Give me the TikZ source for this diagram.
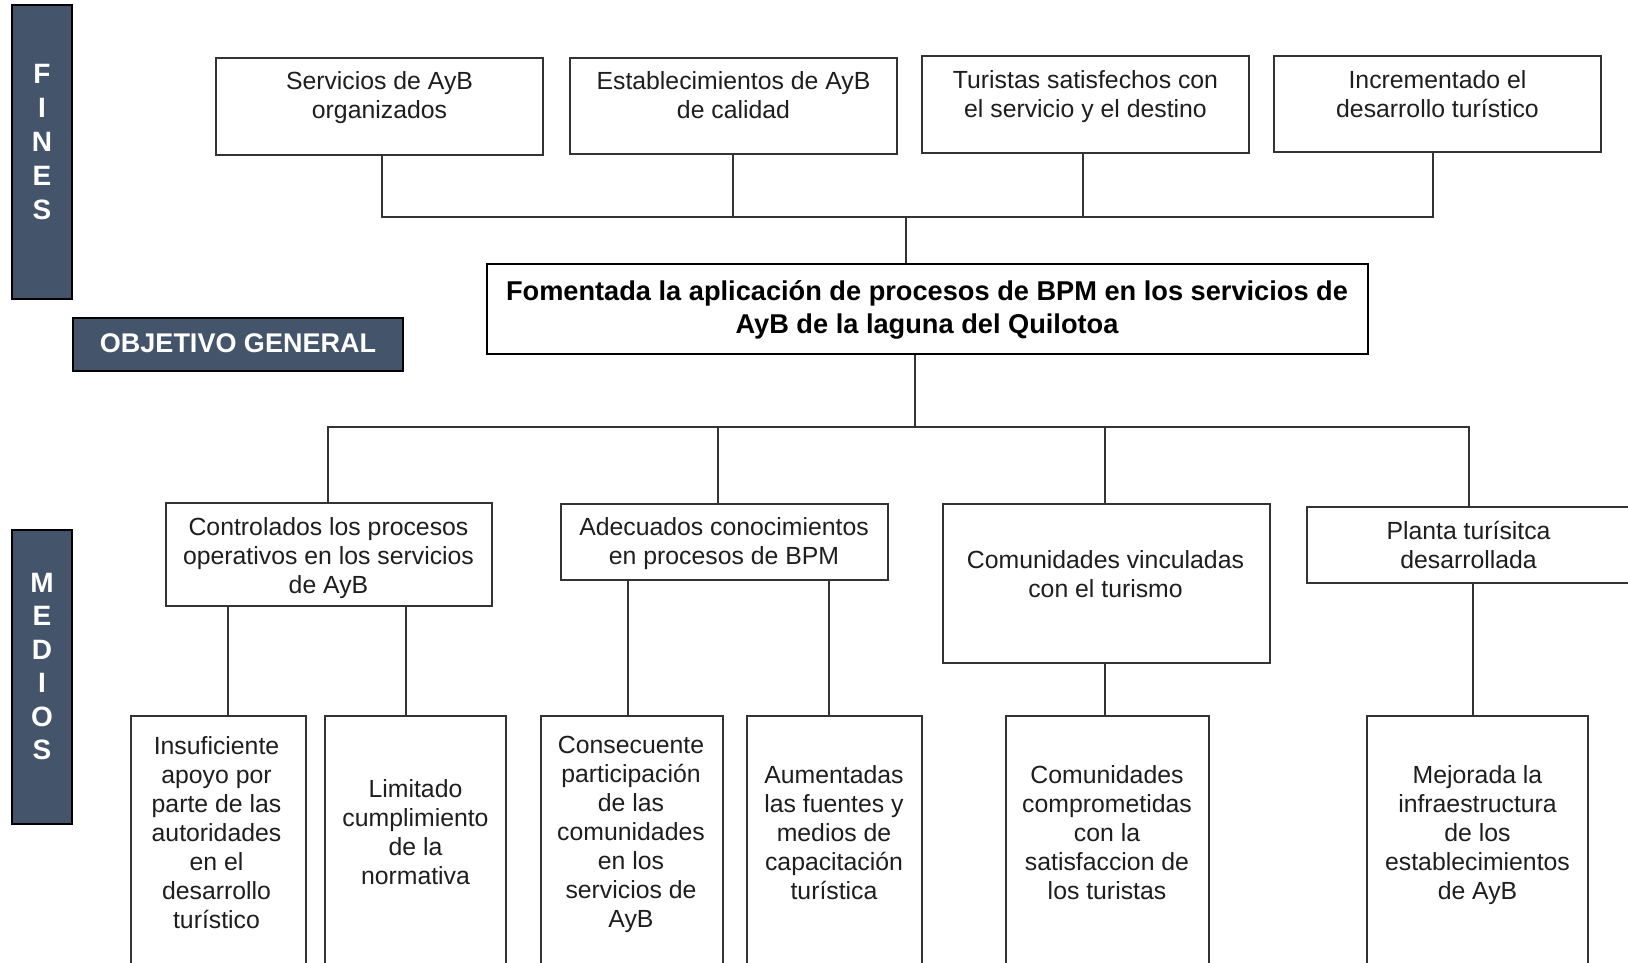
\documentclass[tikz,border=0pt]{standalone}
\usepackage{fontspec}
\setmainfont{Liberation Sans}
\definecolor{barfill}{HTML}{44546A}
\definecolor{ink}{HTML}{1E1E1E}
\definecolor{edge}{HTML}{333333}
\begin{document}
\begin{tikzpicture}[x=0.5pt,y=-0.5pt,
  box/.style={draw=edge,line width=0.75pt,fill=white,inner sep=0pt},
  mainbox/.style={draw=black,line width=1.3pt,fill=white,inner sep=0pt},
  bar/.style={draw=black,line width=1.2pt,fill=barfill,inner sep=0pt},
  txt/.style={text=ink,align=center,inner sep=0pt,yshift=-2.2pt,font=\fontsize{12.4}{14.5}\selectfont,
    execute at begin node=\strut,execute at end node=\strut},
  mtxt/.style={text=black,align=center,inner sep=0pt,yshift=-2.5pt,font=\fontsize{13.6}{16.5}\selectfont\bfseries,
    execute at begin node=\strut,execute at end node=\strut},
  bartxt/.style={text=white,align=center,inner sep=0pt,font=\fontsize{14}{17}\selectfont\bfseries},
  objtxt/.style={text=white,inner sep=0pt,font=\fontsize{13.5}{16}\selectfont\bfseries},
  conn/.style={draw=edge,line width=0.8pt}]
\useasboundingbox (0,0) rectangle (1628,963);
\clip (0,0) rectangle (1628,963);
\fill[white] (0,0) rectangle (1628,963);

% side bars
\node[bar,minimum width=30pt,minimum height=147pt] (finesbar) at (42,152) {};
\node[bartxt] (fines) at (42,142.5) {F\\I\\N\\E\\S};
\node[bar,minimum width=165pt,minimum height=26.5pt] (objbar) at (238,344.5) {};
\node[objtxt] (obj) at (238,343) {OBJETIVO GENERAL};
\node[bar,minimum width=30pt,minimum height=147pt] (mediosbar) at (42,677) {};
\node[bartxt,font=\fontsize{14}{16.7}\selectfont\bfseries] (medios) at (42,666.5) {M\\E\\D\\I\\O\\S};

% top row (fines)
\node[box,minimum width=163.5pt,minimum height=48.5pt] (T1) at (379.5,106.5) {};
\node[txt] (t1) at (379.5,94.5) {Servicios de AyB\\organizados};
\node[box,minimum width=163.5pt,minimum height=48pt] (T2) at (733.5,106) {};
\node[txt] (t2) at (733.5,94.5) {Establecimientos de AyB\\de calidad};
\node[box,minimum width=163.5pt,minimum height=48.5pt] (T3) at (1085.5,104.5) {};
\node[txt] (t3) at (1085.5,93.5) {Turistas satisfechos con\\el servicio y el destino};
\node[box,minimum width=163.5pt,minimum height=48pt] (T4) at (1437.5,104) {};
\node[txt] (t4) at (1437.5,93.5) {Incrementado el\\desarrollo turístico};

% main objective
\node[mainbox,minimum width=440.5pt,minimum height=45pt] (M) at (927.5,309) {};
\node[mtxt] (m) at (927,307) {Fomentada la aplicación de procesos de BPM en los servicios de\\AyB de la laguna del Quilotoa};

% middle row (medios)
\node[box,minimum width=163pt,minimum height=51.5pt] (C1) at (329,554.5) {};
\node[txt] (c1) at (328.5,555) {Controlados los procesos\\operativos en los servicios\\de AyB};
\node[box,minimum width=163.5pt,minimum height=38pt] (C2) at (724.5,542) {};
\node[txt] (c2) at (724,541) {Adecuados conocimientos\\en procesos de BPM};
\node[box,minimum width=163.5pt,minimum height=79.5pt] (C3) at (1106.5,583.5) {};
\node[txt] (c3) at (1105.5,574) {Comunidades vinculadas\\con el turismo};
\node[box,minimum width=163.5pt,minimum height=38pt] (C4) at (1470.5,545) {};
\node[txt] (c4) at (1468.5,544.5) {Planta turísitca\\desarrollada};

% bottom row
\node[box,minimum width=87.5pt,minimum height=142pt] (B1) at (218.5,858) {};
\node[txt] (b1) at (216.5,832) {Insuficiente\\apoyo por\\parte de las\\autoridades\\en el\\desarrollo\\turístico};
\node[box,minimum width=90.5pt,minimum height=142pt] (B2) at (415.5,858) {};
\node[txt] (b2) at (415.5,832) {Limitado\\cumplimiento\\de la\\normativa};
\node[box,minimum width=91pt,minimum height=142pt] (B3) at (632,858) {};
\node[txt] (b3) at (631,832) {Consecuente\\participación\\de las\\comunidades\\en los\\servicios de\\AyB};
\node[box,minimum width=87.5pt,minimum height=142pt] (B4) at (834.5,858) {};
\node[txt] (b4) at (834,832) {Aumentadas\\las fuentes y\\medios de\\capacitación\\turística};
\node[box,minimum width=101.5pt,minimum height=142pt] (B5) at (1107.5,858) {};
\node[txt] (b5) at (1107,832) {Comunidades\\comprometidas\\con la\\satisfaccion de\\los turistas};
\node[box,minimum width=110.5pt,minimum height=142pt] (B6) at (1477.5,858) {};
\node[txt] (b6) at (1477.5,832) {Mejorada la\\infraestructura\\de los\\establecimientos\\de AyB};

% connectors: top
\coordinate (tbL) at (382,217);
\coordinate (tbR) at (1433,217);
\coordinate (tb2) at (733,217);
\coordinate (tb3) at (1083,217);
\coordinate (mt) at (906,217);
\draw[conn] (T1.south -| tbL) -- (tbL) -- (tbR) -- (T4.south -| tbR);
\draw[conn] (T2.south -| tb2) -- (tb2);
\draw[conn] (T3.south -| tb3) -- (tb3);
\draw[conn] (mt) -- (M.north -| mt);

% connectors: middle
\coordinate (lbL) at (328,427);
\coordinate (lbR) at (1469,427);
\coordinate (mb) at (915,427);
\coordinate (c2t) at (718,427);
\coordinate (c3t) at (1105,427);
\draw[conn] (M.south -| mb) -- (mb);
\draw[conn] (C1.north -| lbL) -- (lbL) -- (lbR) -- (C4.north -| lbR);
\draw[conn] (c2t) -- (C2.north -| c2t);
\draw[conn] (c3t) -- (C3.north -| c3t);

% connectors: bottom
\draw[conn] (C1.south -| 228,0) -- (B1.north -| 228,0);
\draw[conn] (C1.south -| 406,0) -- (B2.north -| 406,0);
\draw[conn] (C2.south -| 628,0) -- (B3.north -| 628,0);
\draw[conn] (C2.south -| 829,0) -- (B4.north -| 829,0);
\draw[conn] (C3.south -| 1105,0) -- (B5.north -| 1105,0);
\draw[conn] (C4.south -| 1473,0) -- (B6.north -| 1473,0);
\end{tikzpicture}
\end{document}
